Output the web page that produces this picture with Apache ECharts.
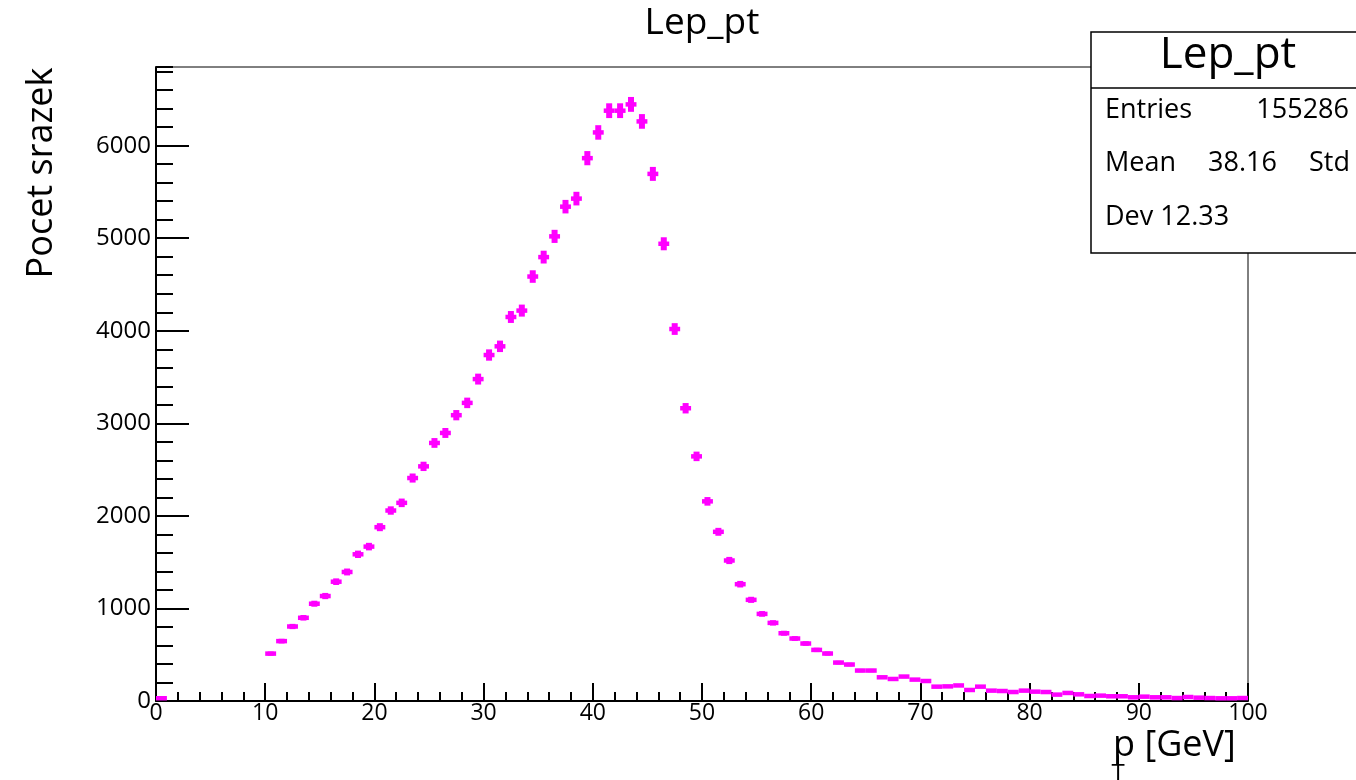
<!DOCTYPE html>
<html lang="cs">
<head>
    <meta charset="UTF-8">
    <title>Lep_pt</title>
    <script src="https://cdn.jsdelivr.net/npm/echarts@6/dist/echarts.min.js"></script>
    <style>
        html, body { margin: 0; padding: 0; background: #fff; }
        #chart { width: 1356px; height: 780px; }
    </style>
</head>
<body>
    <div id="chart"></div>

    <script>
        // histogram: 100 bins from 0 to 100 GeV, null = empty bin (not drawn)
        var xMin = 0;
        var xMax = 100;
        var counts = [
            30, null, null, null, null, null, null, null, null, null,
            512, 647, 805, 899, 1051, 1134, 1289, 1394, 1585, 1668,
            1878, 2058, 2141, 2409, 2535, 2788, 2896, 3088, 3221, 3478,
            3738, 3832, 4149, 4218, 4586, 4796, 5020, 5341, 5428, 5865,
            6143, 6378, 6378, 6446, 6262, 5695, 4940, 4019, 3163, 2643,
            2157, 1828, 1518, 1262, 1093, 941, 844, 732, 675, 621,
            552, 513, 415, 394, 329, 329, 256, 238, 264, 231,
            216, 155, 158, 168, 119, 155, 112, 108, 97, 112,
            101, 97, 69, 87, 72, 54, 58, 51, 51, 40,
            47, 40, 40, 32, 43, 36, 32, 29, 29, 32
        ];
        var xTicks = [0, 10, 20, 30, 40, 50, 60, 70, 80, 90, 100];
        var yTicks = [0, 1000, 2000, 3000, 4000, 5000, 6000];
        var yMax = 6850;

        var statsLabels = ['Entries', 'Mean', 'Dev 12.33'];
        var statsValues = ['155286', '38.16', 'Std'];

        var FONT = 'Open Sans';
        var MAGENTA = '#ff00ff';

        var binWidth = (xMax - xMin) / counts.length;
        var points = [];
        counts.forEach(function (c, i) {
            if (c !== null) {
                points.push([xMin + (i + 0.5) * binWidth, c]);
            }
        });

        // horizontal bar over the bin + vertical sqrt(N) error bar
        function renderBin(params, api) {
            var x = api.value(0);
            var y = api.value(1);
            var err = Math.sqrt(y);
            var l = api.coord([x - binWidth / 2, y]);
            var r = api.coord([x + binWidth / 2, y]);
            var t = api.coord([x, y + err]);
            var b = api.coord([x, Math.max(0, y - err)]);
            return {
                type: 'group',
                children: [
                    { type: 'line', shape: { x1: l[0], y1: l[1], x2: r[0], y2: r[1] },
                      style: { stroke: MAGENTA, lineWidth: 4.5 } },
                    { type: 'line', shape: { x1: t[0], y1: t[1], x2: b[0], y2: b[1] },
                      style: { stroke: MAGENTA, lineWidth: 6 } }
                ]
            };
        }

        var chart = echarts.init(document.getElementById('chart'));

        var option = {
            animation: false,
            backgroundColor: '#fff',
            grid: {
                left: 156, right: 108, top: 67, bottom: 79,
                show: true, borderColor: '#000', borderWidth: 1
            },
            xAxis: {
                type: 'value',
                min: xTicks[0],
                max: xTicks[xTicks.length - 1],
                interval: xTicks[1] - xTicks[0],
                axisLine: { lineStyle: { color: '#000', width: 2 } },
                axisTick: { inside: true, length: 18, lineStyle: { color: '#000', width: 2 } },
                minorTick: { show: true, splitNumber: 5, length: 9, lineStyle: { color: '#000', width: 2 } },
                axisLabel: { color: '#000', fontSize: 23, fontFamily: FONT, margin: 1 },
                splitLine: { show: false }
            },
            yAxis: [{
                type: 'value',
                min: yTicks[0],
                max: yMax,
                interval: yTicks[1] - yTicks[0],
                axisLine: { show: true, lineStyle: { color: '#000', width: 2 } },
                axisTick: { show: true, inside: true, length: 33, lineStyle: { color: '#000', width: 2 } },
                axisLabel: {
                    color: '#000', fontSize: 24, fontFamily: FONT, margin: 5,
                    showMaxLabel: false, padding: [0, 0, 10, 0],
                    formatter: function (v) { return String(v); }
                },
                splitLine: { show: false }
            }, {
                type: 'value',
                position: 'left',
                min: yTicks[0],
                max: yMax,
                interval: 200,
                axisLine: { show: false },
                axisTick: { show: true, inside: true, length: 17, lineStyle: { color: '#000', width: 2 } },
                axisLabel: { show: false },
                splitLine: { show: false }
            }],
            series: [{
                type: 'custom',
                renderItem: renderBin,
                encode: { x: 0, y: 1 },
                data: points,
                z: 5
            }],
            graphic: [
                { type: 'text', x: 702, y: 23, z: 100,
                  style: { text: 'Lep_pt', font: '37px "Open Sans"', fill: '#000',
                           align: 'center', verticalAlign: 'middle' } },
                { type: 'text', x: 42, y: 173, rotation: Math.PI / 2, z: 100,
                  style: { text: 'Pocet srazek', font: '36px "Open Sans"', fill: '#000',
                           align: 'center', verticalAlign: 'middle' } },
                { type: 'text', x: 1113, y: 746, z: 100,
                  style: { text: 'p [GeV]', font: '36px "Open Sans"', fill: '#000',
                           align: 'left', verticalAlign: 'middle' } },
                { type: 'text', x: 1118, y: 774, z: 99,
                  style: { text: 'T', font: '24px "Open Sans"', fill: '#000',
                           align: 'center', verticalAlign: 'middle' } },
                // stats box
                { type: 'rect', z: 100, shape: { x: 1091, y: 32, width: 300, height: 221 },
                  style: { fill: '#fff', stroke: '#000', lineWidth: 1.5 } },
                { type: 'line', z: 101, shape: { x1: 1091, y1: 88, x2: 1356, y2: 88 },
                  style: { stroke: '#000', lineWidth: 1.5 } },
                { type: 'text', x: 1228, y: 55, z: 102,
                  style: { text: 'Lep_pt', font: '44px "Open Sans"', fill: '#000',
                           align: 'center', verticalAlign: 'middle' } },
                { type: 'text', x: 1105, y: 110, z: 102,
                  style: { text: statsLabels[0], font: '27px "Open Sans"', fill: '#000', verticalAlign: 'middle' } },
                { type: 'text', x: 1349, y: 110, z: 102,
                  style: { text: statsValues[0], font: '27px "Open Sans"', fill: '#000', align: 'right', verticalAlign: 'middle' } },
                { type: 'text', x: 1105, y: 163, z: 102,
                  style: { text: statsLabels[1], font: '27px "Open Sans"', fill: '#000', verticalAlign: 'middle' } },
                { type: 'text', x: 1208, y: 163, z: 102,
                  style: { text: statsValues[1], font: '27px "Open Sans"', fill: '#000', verticalAlign: 'middle' } },
                { type: 'text', x: 1309, y: 163, z: 102,
                  style: { text: statsValues[2], font: '27px "Open Sans"', fill: '#000', verticalAlign: 'middle' } },
                { type: 'text', x: 1105, y: 217, z: 102,
                  style: { text: statsLabels[2], font: '27px "Open Sans"', fill: '#000', verticalAlign: 'middle' } }
            ]
        };

        chart.setOption(option);
    </script>
</body>
</html>
